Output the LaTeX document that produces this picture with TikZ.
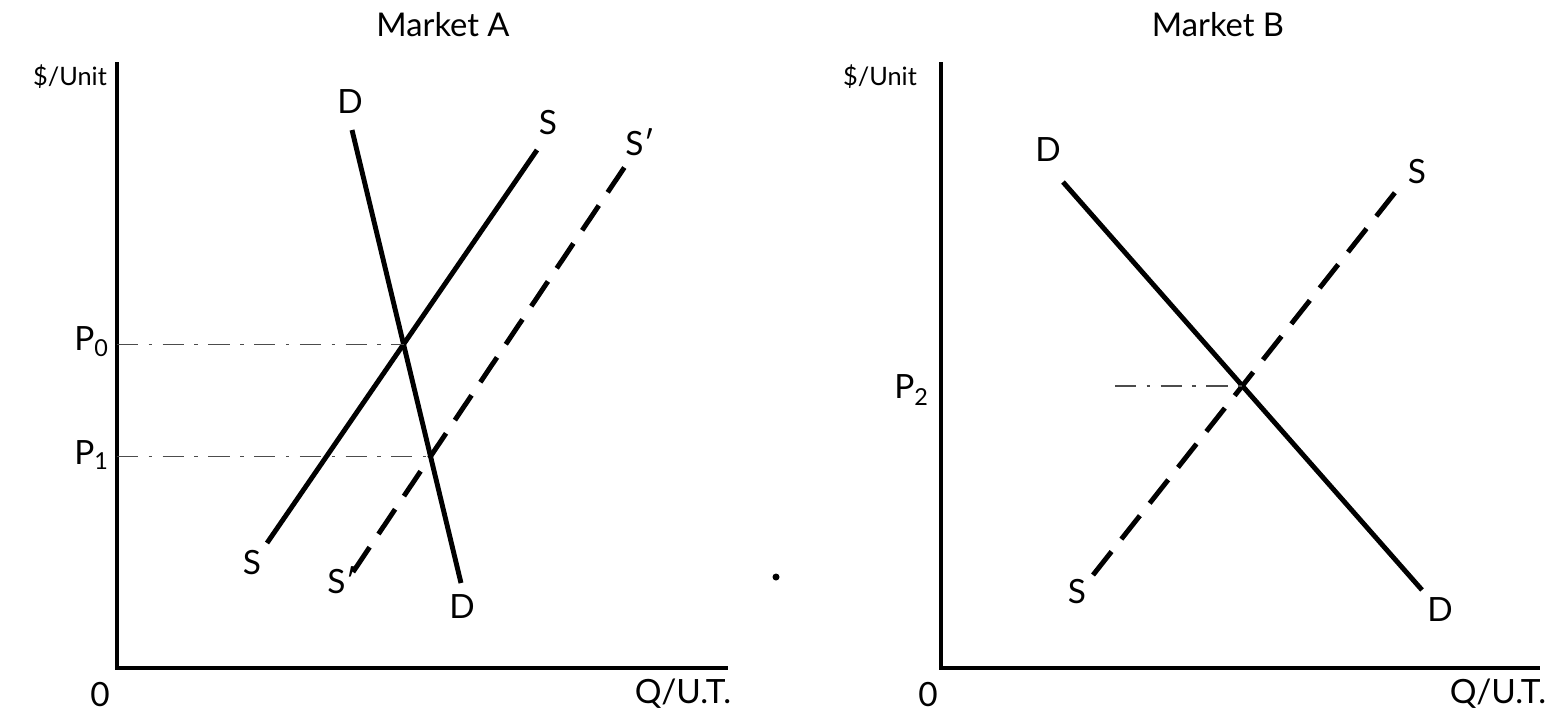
\documentclass[tikz,border=0pt]{standalone}
\usepackage{fontspec}
\setmainfont{Lato}
\usetikzlibrary{arrows.meta,positioning,calc}

\begin{document}
\begin{tikzpicture}[
  x=0.01cm,y=-0.01cm,
  axis/.style={line width=0.9pt},
  curve/.style={line width=1.4pt},
  shifted/.style={curve,dash pattern=on 8.5pt off 4.5pt},
  guide/.style={line width=0.4pt,black!70,dash pattern=on 6pt off 3pt on 1pt off 3pt},
  lbl/.style={font=\fontsize{9.5}{11}\selectfont,inner sep=1pt},
  title/.style={lbl,font=\fontsize{9.3}{11}\selectfont},
  unit/.style={lbl,font=\fontsize{7.2}{9}\selectfont}
]
\useasboundingbox (0,0) rectangle (1567,717);

% Market A
\coordinate (oA) at (117,668);
\coordinate (topA) at (117,62);
\coordinate (endA) at (728,668);
\draw[axis] (topA) -- (oA) -- (endA);
\node[title] (titleA) at (443,25) {Market A};
\node[unit] (yA) at (70,77) {\$/Unit};
\node[lbl] (zeroA) at (100,694) {0};
\node[lbl] (xA) at (683,694) {Q/U.T.};

\coordinate (dA1) at (352,130);
\coordinate (dA2) at (461,583);
\coordinate (sA1) at (267,543);
\coordinate (sA2) at (537,150);
\coordinate (tA1) at (353,572);
\coordinate (tA2) at (626,165);
\draw[curve] (dA1) -- (dA2);
\draw[curve] (sA1) -- (sA2);
\draw[shifted] (tA1) -- (tA2);
\node[lbl] (dAtop) at (350,102) {D};
\node[lbl] (dAbot) at (462,607) {D};
\node[lbl] (sAtop) at (548,123) {S};
\node[lbl] (sAbot) at (252,563) {S};
\node[lbl] (tAtop) at (640,142) {S′};
\node[lbl] (tAbot) at (342,580) {S′};

\coordinate (eA0) at (intersection of dA1--dA2 and sA1--sA2);
\coordinate (eA1) at (intersection of dA1--dA2 and tA1--tA2);
\node[lbl,anchor=east] (p0) at (114,342) {P\textsubscript{0}};
\node[lbl,anchor=east] (p1) at (114,455) {P\textsubscript{1}};
\draw[guide] (oA |- eA0) -- (eA0);
\draw[guide] (oA |- eA1) -- (eA1);

\fill (776,577) circle (3.5) coordinate (dot);

% Market B
\coordinate (oB) at (941,668);
\coordinate (topB) at (941,62);
\coordinate (endB) at (1540,668);
\draw[axis] (topB) -- (oB) -- (endB);
\node[title] (titleB) at (1218,25) {Market B};
\node[unit] (yB) at (880,77) {\$/Unit};
\node[lbl] (zeroB) at (928,694) {0};
\node[lbl] (xB) at (1498,694) {Q/U.T.};

\coordinate (dB1) at (1063,182);
\coordinate (dB2) at (1422,590);
\coordinate (sB1) at (1093,575);
\coordinate (sB2) at (1397,190);
\draw[curve] (dB1) -- (dB2);
\draw[shifted] (sB1) -- (sB2);
\node[lbl] (dBtop) at (1048,150) {D};
\node[lbl] (dBbot) at (1440,610) {D};
\node[lbl] (sBtop) at (1417,172) {S};
\node[lbl] (sBbot) at (1077,592) {S};

\coordinate (eB) at (intersection of dB1--dB2 and sB1--sB2);
\coordinate (gB) at (eB -| 1115,0);
\node[lbl,anchor=east] (p2) at (934,390) {P\textsubscript{2}};
\draw[guide] (gB) -- (eB);
\end{tikzpicture}
\end{document}
